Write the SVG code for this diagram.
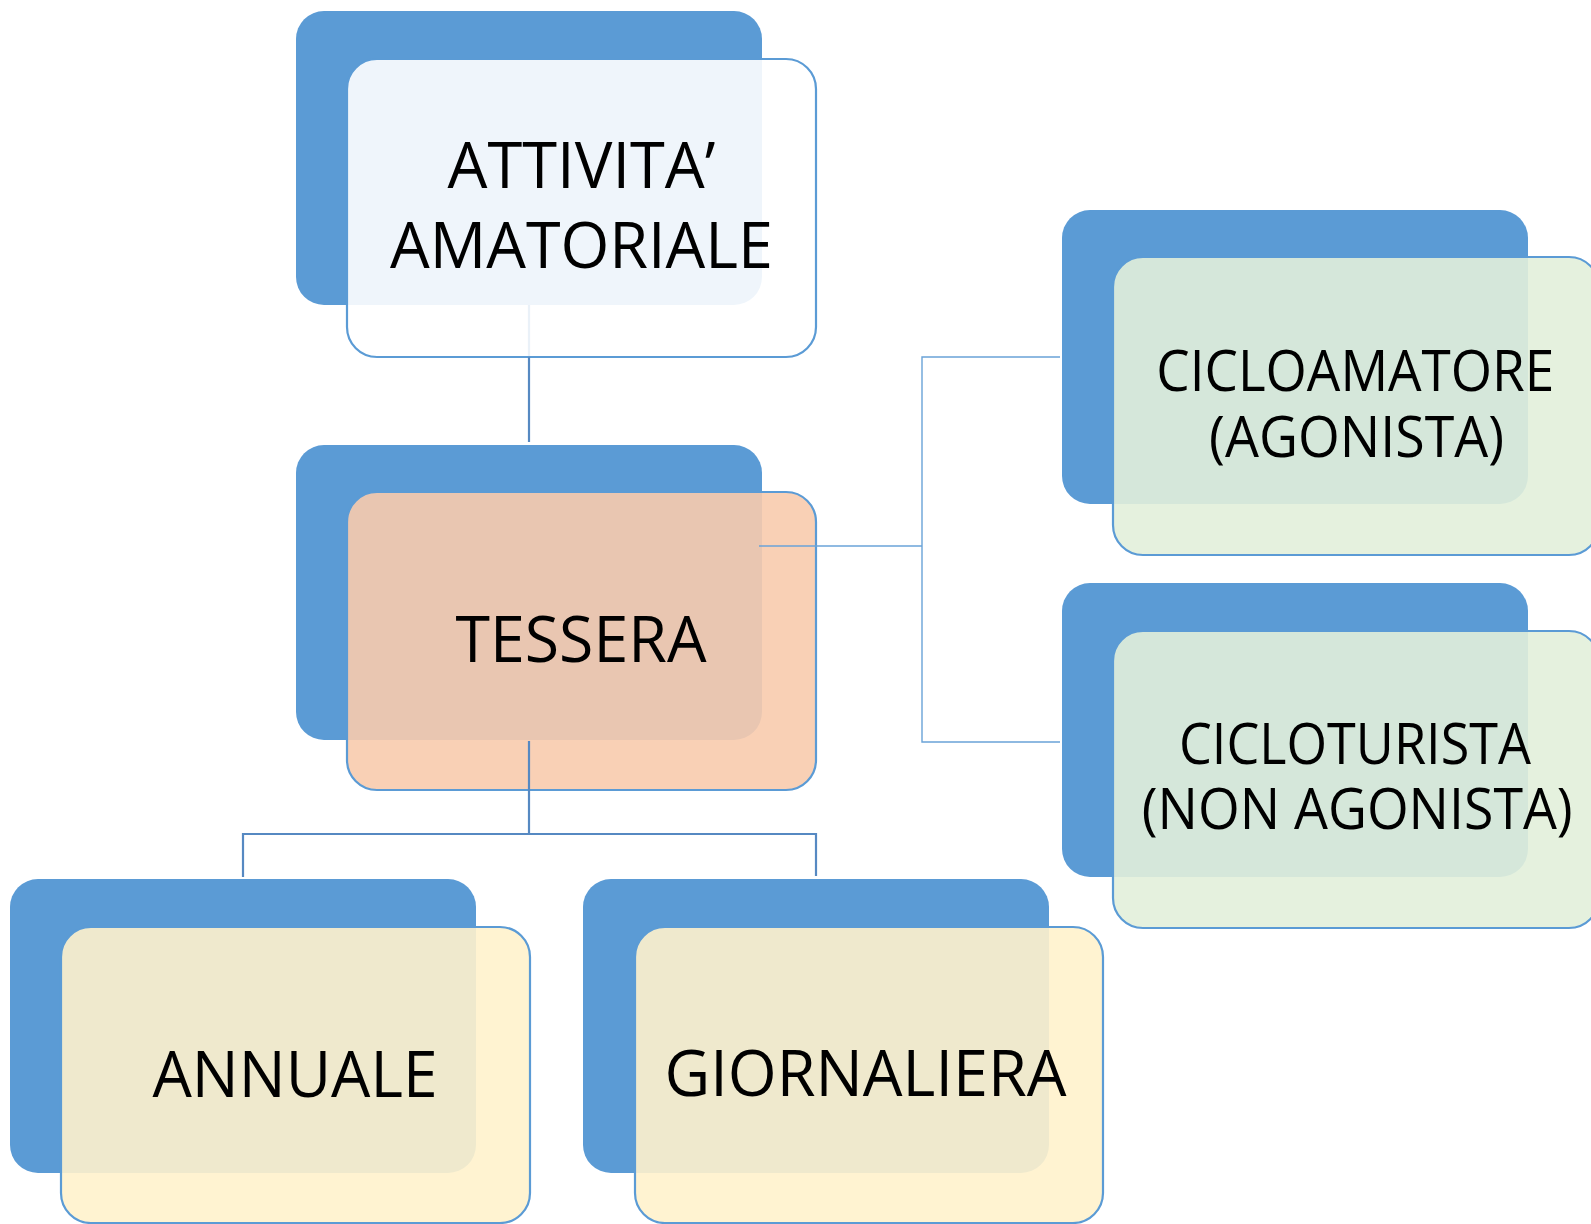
<svg xmlns="http://www.w3.org/2000/svg" width="1591" height="1224" viewBox="0 0 1591 1224">
<style>
.back{fill:#5b9bd5;}
.front{stroke:#5b9bd5;stroke-width:2.2;fill-opacity:0.9;}
.f1{fill:#ffffff;}
.f2{fill:#f8cbad;}
.f3{fill:#fff2cc;}
.f4{fill:#e2efda;}
.lbl{font-family:"Open Sans","Liberation Sans",sans-serif;fill:#000000;text-anchor:middle;}
.big{font-size:64px;}
.small{font-size:57px;}
.conn{fill:none;stroke:#5689c2;stroke-width:2.2;}
.thin{fill:none;stroke:#6aa3d8;stroke-width:1.4;}
</style>
<rect width="1591" height="1224" fill="#ffffff"/>
<g id="node-attivita">
<rect class="back" x="296" y="11" width="466" height="294" rx="28"/>
<rect class="front f1" x="347" y="59" width="469" height="298" rx="30"/>
<text class="lbl big" x="581.5" y="188.3" textLength="268" lengthAdjust="spacingAndGlyphs">ATTIVITA’</text>
<text class="lbl big" x="581.5" y="267.7" textLength="383" lengthAdjust="spacingAndGlyphs">AMATORIALE</text>
</g>
<g id="node-tessera">
<rect class="back" x="296" y="445" width="466" height="295" rx="28"/>
<rect class="front f2" x="347" y="492" width="469" height="298" rx="30"/>
<text class="lbl big" x="581" y="662.3" textLength="251" lengthAdjust="spacingAndGlyphs">TESSERA</text>
</g>
<g id="node-annuale">
<rect class="back" x="10" y="879" width="466" height="294" rx="28"/>
<rect class="front f3" x="61" y="927" width="469" height="296" rx="30"/>
<text class="lbl big" x="295" y="1096.7" textLength="285" lengthAdjust="spacingAndGlyphs">ANNUALE</text>
</g>
<g id="node-giornaliera">
<rect class="back" x="583" y="879" width="466" height="294" rx="28"/>
<rect class="front f3" x="635" y="927" width="468" height="296" rx="30"/>
<text class="lbl big" x="865.5" y="1096" textLength="402" lengthAdjust="spacingAndGlyphs">GIORNALIERA</text>
</g>
<g id="node-cicloamatore">
<rect class="back" x="1062" y="210" width="466" height="294" rx="28"/>
<rect class="front f4" x="1113" y="257" width="486" height="298" rx="30"/>
<text class="lbl small" x="1355.3" y="391" textLength="398" lengthAdjust="spacingAndGlyphs">CICLOAMATORE</text>
<text class="lbl small" x="1356.6" y="456.7" textLength="295" lengthAdjust="spacingAndGlyphs">(AGONISTA)</text>
</g>
<g id="node-cicloturista">
<rect class="back" x="1062" y="583" width="466" height="294" rx="28"/>
<rect class="front f4" x="1113" y="631" width="486" height="297" rx="30"/>
<text class="lbl small" x="1355" y="764.3" textLength="352" lengthAdjust="spacingAndGlyphs">CICLOTURISTA</text>
<text class="lbl small" x="1357.2" y="829.3" textLength="431" lengthAdjust="spacingAndGlyphs">(NON AGONISTA)</text>
</g>
<g id="connectors">
<line class="conn" x1="529" y1="305" x2="529" y2="356" stroke-opacity="0.12"/>
<line class="conn" x1="529" y1="357" x2="529" y2="442"/>
<polyline class="conn" points="529,741 529,834"/>
<polyline class="conn" points="243,877 243,834 816,834 816,876"/>
<polyline class="thin" points="759,546 922,546"/>
<polyline class="thin" points="1060,357 922,357 922,742 1060,742"/>
</g>
</svg>
